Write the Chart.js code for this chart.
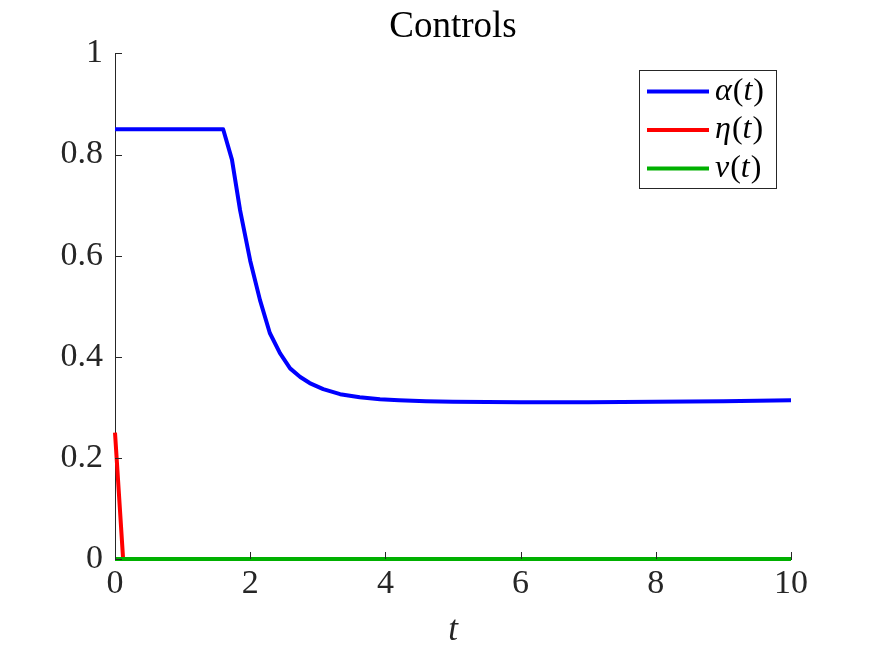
<!DOCTYPE html>
<html>
<head>
<meta charset="utf-8">
<script src="https://cdn.jsdelivr.net/npm/chart.js@4/dist/chart.umd.min.js"></script>
<style>
  html, body { margin: 0; padding: 0; background: #fff; }
  #wrap { width: 875px; height: 656px; }
</style>
</head>
<body>
<div id="wrap"><canvas id="controls"></canvas></div>
<script>
// Controls over time

const alphaT = [0, 1.6, 1.73, 1.85, 2.0, 2.145, 2.29, 2.44, 2.59, 2.74, 2.88, 3.08, 3.33, 3.62, 3.92, 4.2, 4.6, 5, 6, 7, 8, 9, 10];
const alphaV = [0.85, 0.85, 0.79, 0.69, 0.59, 0.512, 0.447, 0.407, 0.377, 0.36, 0.348, 0.336, 0.326, 0.32, 0.316, 0.314, 0.312, 0.311, 0.31, 0.31, 0.311, 0.312, 0.314];

const etaT = [0, 0.12, 10];
const etaV = [0.25, 0, 0];

const vT = [0, 10];
const vV = [0, 0];

const xTicks = [0, 2, 4, 6, 8, 10];
const yTicks = [0, 0.2, 0.4, 0.6, 0.8, 1];

const seriesLabels = ["\u03b1(t)", "\u03b7(t)", "v(t)"];

const SERIF = "'Liberation Serif', 'DejaVu Serif', serif";
const AXIS_COLOR = "#262626";

function toPoints(ts, vs) {
  return ts.map((t, i) => ({ x: t, y: vs[i] }));
}

// inward ticks, like matlab
const inwardTicks = {
  id: "inwardTicks",
  afterDatasetsDraw(chart) {
    const ctx = chart.ctx;
    const area = chart.chartArea;
    const len = 7;
    ctx.save();
    ctx.strokeStyle = AXIS_COLOR;
    ctx.lineWidth = 1;
    ctx.beginPath();
    chart.scales.x.ticks.forEach((t) => {
      const px = Math.round(chart.scales.x.getPixelForValue(t.value)) + 0.5;
      ctx.moveTo(px, area.bottom);
      ctx.lineTo(px, area.bottom - len);
    });
    chart.scales.y.ticks.forEach((t) => {
      const py = Math.round(chart.scales.y.getPixelForValue(t.value)) + 0.5;
      ctx.moveTo(area.left, py);
      ctx.lineTo(area.left + len, py);
    });
    ctx.stroke();
    ctx.restore();
  },
};

// boxed legend in the top right corner
const boxLegend = {
  id: "boxLegend",
  afterDraw(chart) {
    const ctx = chart.ctx;
    const area = chart.chartArea;
    const right = area.right - 15;
    const top = area.top + 17;
    const boxW = 137;
    const rowH = 38.5;
    const boxH = 118;
    const left = right - boxW;
    ctx.save();
    ctx.fillStyle = "#fff";
    ctx.fillRect(left, top, boxW, boxH);
    ctx.strokeStyle = AXIS_COLOR;
    ctx.lineWidth = 1;
    ctx.strokeRect(Math.round(left) + 0.5, Math.round(top) + 0.5, boxW, boxH);
    chart.data.datasets.forEach((ds, i) => {
      const y = top + 21 + i * rowH;
      ctx.strokeStyle = ds.borderColor;
      ctx.lineWidth = 4;
      ctx.beginPath();
      ctx.moveTo(left + 8, y);
      ctx.lineTo(left + 70, y);
      ctx.stroke();
      // letters italic, brackets upright
      let x = left + 76;
      ctx.fillStyle = "#000";
      ctx.textBaseline = "middle";
      for (const ch of ds.label) {
        const italic = /[^()]/.test(ch);
        ctx.font = (italic ? "italic " : "") + "32px " + SERIF;
        ctx.fillText(ch, x, y);
        x += ctx.measureText(ch).width + (italic ? 1 : 0);
      }
    });
    ctx.restore();
  },
};

new Chart(document.getElementById("controls"), {
  type: "line",
  data: {
    datasets: [
      {
        label: seriesLabels[0],
        data: toPoints(alphaT, alphaV),
        borderColor: "rgb(0, 0, 255)",
        borderWidth: 4,
        pointRadius: 0,
        tension: 0,
        borderJoinStyle: "round",
        clip: false,
        order: 2,
      },
      {
        label: seriesLabels[1],
        data: toPoints(etaT, etaV),
        borderColor: "rgb(255, 0, 0)",
        borderWidth: 4,
        pointRadius: 0,
        tension: 0,
        clip: false,
        order: 1,
      },
      {
        label: seriesLabels[2],
        data: toPoints(vT, vV),
        borderColor: "rgb(0, 176, 0)",
        borderWidth: 4,
        pointRadius: 0,
        tension: 0,
        clip: false,
        order: 0,
      },
    ],
  },
  options: {
    responsive: true,
    maintainAspectRatio: false,
    animation: false,
    layout: {
      padding: { left: 0, right: 84, top: 0, bottom: 0 },
    },
    plugins: {
      legend: { display: false },
      tooltip: { enabled: false },
      title: {
        display: true,
        text: "Controls",
        fullSize: false,
        color: "#000",
        font: { family: SERIF, size: 37, weight: "normal" },
        padding: { top: 5, bottom: 4 },
      },
    },
    scales: {
      x: {
        type: "linear",
        min: 0,
        max: 10,
        afterBuildTicks: (scale) => {
          scale.ticks = xTicks.map((v) => ({ value: v }));
        },
        afterFit: (scale) => {
          scale.height = 97;
        },
        ticks: {
          color: AXIS_COLOR,
          font: { family: SERIF, size: 34 },
          padding: 5,
          maxRotation: 0,
          callback: (v) => String(v),
        },
        grid: { drawOnChartArea: false, drawTicks: false },
        border: { display: true, color: AXIS_COLOR, width: 1 },
        title: {
          display: true,
          text: "t",
          color: AXIS_COLOR,
          font: { family: SERIF, size: 35, style: "italic" },
          padding: { top: 0 },
        },
      },
      y: {
        type: "linear",
        min: 0,
        max: 1,
        afterBuildTicks: (scale) => {
          scale.ticks = yTicks.map((v) => ({ value: v }));
        },
        afterFit: (scale) => {
          scale.width = 115;
        },
        ticks: {
          color: AXIS_COLOR,
          font: { family: SERIF, size: 34 },
          padding: 12,
          callback: (v) => String(Math.round(v * 10) / 10),
        },
        grid: { drawOnChartArea: false, drawTicks: false },
        border: { display: true, color: AXIS_COLOR, width: 1 },
      },
    },
  },
  plugins: [inwardTicks, boxLegend],
});
</script>
</body>
</html>
